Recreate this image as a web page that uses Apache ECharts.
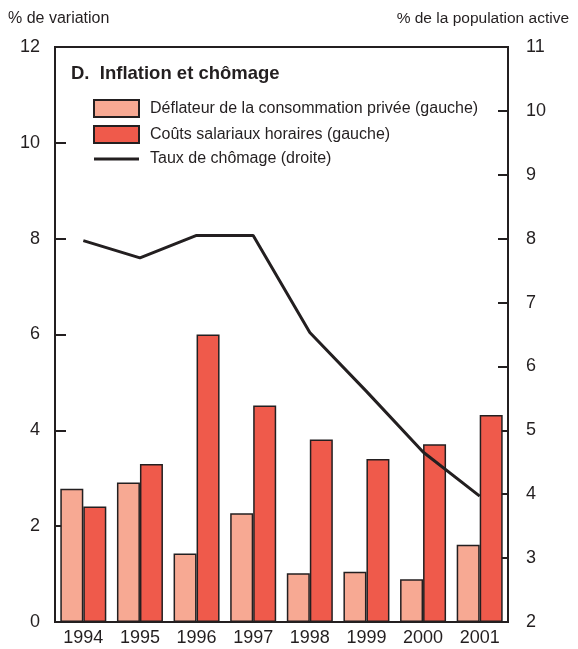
<!DOCTYPE html>
<html>
<head>
<meta charset="utf-8">
<script src="https://cdn.jsdelivr.net/npm/echarts@6/dist/echarts.min.js"></script>
<style>
  html, body { margin: 0; padding: 0; background: #fff; }
  #chart { width: 578px; height: 649px; }
</style>
</head>
<body>
<div id="chart"></div>
<script>
// données
const years = ['1994', '1995', '1996', '1997', '1998', '1999', '2000', '2001']
const deflateur = [2.78, 2.91, 1.43, 2.27, 1.02, 1.05, 0.89, 1.61]
const coutsSalariaux = [2.41, 3.30, 6.0, 4.52, 3.81, 3.40, 3.71, 4.32]
const chomage = [7.97, 7.70, 8.05, 8.05, 6.53, 5.61, 4.66, 3.97]

const font = "'Liberation Sans', Arial, sans-serif"
const ink = '#231f20'

let myCharts = echarts.init(document.getElementById('chart'))
myCharts.setOption({
  animation: false,
  textStyle: { fontFamily: font, color: ink },
  title: [
    {
      text: 'D.  Inflation et chômage',
      left: 66, top: 59,
      textStyle: { fontFamily: font, fontSize: 18.5, fontWeight: 'bold', color: ink },
    },
    {
      text: '% de variation',
      left: 3, top: 6,
      textStyle: { fontFamily: font, fontSize: 16, fontWeight: 'normal', color: ink },
    },
    {
      text: '% de la population active',
      right: 4, top: 6,
      textStyle: { fontFamily: font, fontSize: 15.5, fontWeight: 'normal', color: ink },
    },
  ],
  legend: {
    orient: 'vertical',
    left: 93, top: 99,
    padding: 0,
    itemWidth: 45, itemHeight: 17,
    itemGap: 7,
    textStyle: { fontFamily: font, fontSize: 16, color: ink, padding: [0, 0, 0, 6] },
    data: [
      { name: 'Déflateur de la consommation privée (gauche)', icon: 'rect' },
      { name: 'Coûts salariaux horaires (gauche)', icon: 'rect' },
      { name: 'Taux de chômage (droite)', icon: 'path://M0,0 H45 V3 H0 Z' },
    ],
  },
  grid: {
    left: 55, right: 70, top: 47, bottom: 27,
    show: true,
    borderColor: ink,
    borderWidth: 2,
  },
  xAxis: {
    type: 'category',
    data: years,
    axisLine: { lineStyle: { color: ink, width: 2 } },
    axisTick: { show: false },
    axisLabel: { fontFamily: font, fontSize: 18, color: ink, margin: 7 },
  },
  yAxis: [
    {
      type: 'value',
      min: 0, max: 12, interval: 2,
      splitLine: { show: false },
      axisLine: { show: true, lineStyle: { color: ink, width: 2 } },
      axisTick: { show: true, inside: true, length: 11, lineStyle: { color: ink, width: 2 } },
      axisLabel: { fontFamily: font, fontSize: 18, color: ink, margin: 15 },
    },
    {
      type: 'value',
      min: 2, max: 11, interval: 1,
      splitLine: { show: false },
      axisLine: { show: true, lineStyle: { color: ink, width: 2 } },
      axisTick: { show: true, inside: true, length: 10, lineStyle: { color: ink, width: 2 } },
      axisLabel: { fontFamily: font, fontSize: 18, color: ink, margin: 18 },
    },
  ],
  series: [
    {
      name: 'Déflateur de la consommation privée (gauche)',
      type: 'bar',
      data: deflateur,
      barWidth: 23,
      barGap: '0%',
      itemStyle: { color: '#f7a993', borderColor: ink, borderWidth: 1.5 },
    },
    {
      name: 'Coûts salariaux horaires (gauche)',
      type: 'bar',
      data: coutsSalariaux,
      barWidth: 23,
      barGap: '0%',
      itemStyle: { color: '#ef5a4b', borderColor: ink, borderWidth: 1.5 },
    },
    {
      name: 'Taux de chômage (droite)',
      type: 'line',
      yAxisIndex: 1,
      data: chomage,
      symbol: 'none',
      lineStyle: { color: ink, width: 3 },
      itemStyle: { color: ink },
      z: 5,
    },
  ],
})
</script>
</body>
</html>
